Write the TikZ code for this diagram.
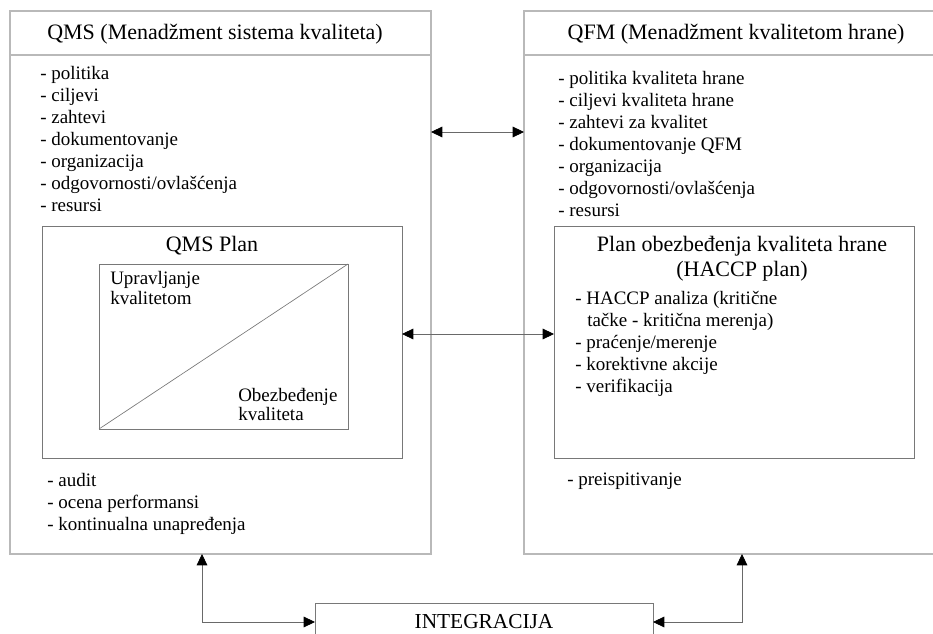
\documentclass[tikz,border=0pt]{standalone}
\usepackage{fontspec}
\setmainfont{Liberation Serif}
\usetikzlibrary{arrows.meta}
\definecolor{boxgray}{RGB}{185,185,185}
\definecolor{framegray}{RGB}{120,120,120}
\definecolor{linegray}{RGB}{105,105,105}
\begin{document}
\begin{tikzpicture}[x=0.75pt, y=-0.75pt,
        bigbox/.style={draw=boxgray, line width=1.2pt, inner sep=0pt, outer sep=0pt, anchor=north west},
        planbox/.style={draw=framegray, line width=0.7pt, inner sep=0pt, outer sep=0pt, anchor=north west},
        head/.style={font=\fontsize{16.5}{19}\selectfont, anchor=base, inner sep=0pt},
        item/.style={font=\fontsize{14.25}{16.5}\selectfont, anchor=base west, inner sep=0pt},
        link/.style={draw=linegray, line width=0.6pt,
            {Triangle[length=8.5pt, width=8pt, color=black]}-{Triangle[length=8.5pt, width=8pt, color=black]}}]
        \useasboundingbox (0,0) rectangle (933,634);
        \node[bigbox, minimum width=315.75pt, minimum height=407.25pt] (qms) at (10,11) {};
        \node[bigbox, minimum width=318pt, minimum height=407.25pt] (qfm) at (524,11) {};
        \draw[boxgray, line width=1.2pt] (qms.west |- 0,55) -- (qms.east |- 0,55);
        \draw[boxgray, line width=1.2pt] (qfm.west |- 0,55) -- (qfm.east |- 0,55);
        \node[planbox, minimum width=270pt, minimum height=174pt] (qmsplan) at (42,226) {};
        \node[planbox, minimum width=186.75pt, minimum height=123.75pt] (upr) at (99,264) {};
        \draw[framegray, line width=0.5pt] (upr.south west) -- (upr.north east);
        \node[planbox, minimum width=270pt, minimum height=174pt] (haccp) at (554,226) {};
        \node[planbox, minimum width=253.5pt, minimum height=28.5pt, font=\fontsize{16}{19}\selectfont] (integ) at (315,603) {INTEGRACIJA};

        \node[head] (qmshead) at (215,40) {QMS (Menadžment sistema kvaliteta)};
        \node[head] (qfmhead) at (736,40) {QFM (Menadžment kvalitetom hrane)};
        \node[head] (qmsplantitle) at (212,252) {QMS Plan};
        \node[head] (haccptitle) at (742,252) {Plan obezbeđenja kvaliteta hrane};
        \node[head] (haccptitleb) at (742,277) {(HACCP plan)};

        \foreach \t [count=\i] in {politika, ciljevi, zahtevi, dokumentovanje, organizacija, odgovornosti/ovlašćenja, resursi}
            \node[item] (qmsitem\i) at (40, 58+22*\i) {- \t};
        \foreach \t [count=\i] in {politika kvaliteta hrane, ciljevi kvaliteta hrane, zahtevi za kvalitet, dokumentovanje QFM, organizacija, odgovornosti/ovlašćenja, resursi}
            \node[item] (qfmitem\i) at (558, 63+22*\i) {- \t};
        \foreach \t [count=\i] in {audit, ocena performansi, kontinualna unapređenja}
            \node[item] (qmscheck\i) at (47, 465+22*\i) {- \t};
        \node[item] (qfmcheck) at (567,486) {- preispitivanje};

        \node[item] (upra) at (110,285) {Upravljanje};
        \node[item] (uprb) at (110,305) {kvalitetom};
        \node[item] (obza) at (238,402) {Obezbeđenje};
        \node[item] (obzb) at (238,421) {kvaliteta};

        \node[item] (haccpitem) at (575,305) {- HACCP analiza (kritične};
        \node[item] (haccpitemb) at (587,327) {tačke - kritična merenja)};
        \foreach \t [count=\i] in {praćenje/merenje, korektivne akcije, verifikacija}
            \node[item] (haccpstep\i) at (575, 327+22*\i) {- \t};

        \coordinate (toprow) at (0,132);
        \coordinate (midrow) at (0,334);
        \coordinate (leftcol) at (202,0);
        \coordinate (rightcol) at (742,0);
        \draw[link] (qms.east |- toprow) -- (qfm.west |- toprow);
        \draw[link] (qmsplan.east |- midrow) -- (haccp.west |- midrow);
        \draw[link] (integ.west) -| (leftcol |- qms.south);
        \draw[link] (integ.east) -| (rightcol |- qfm.south);
    \end{tikzpicture}
\end{document}
